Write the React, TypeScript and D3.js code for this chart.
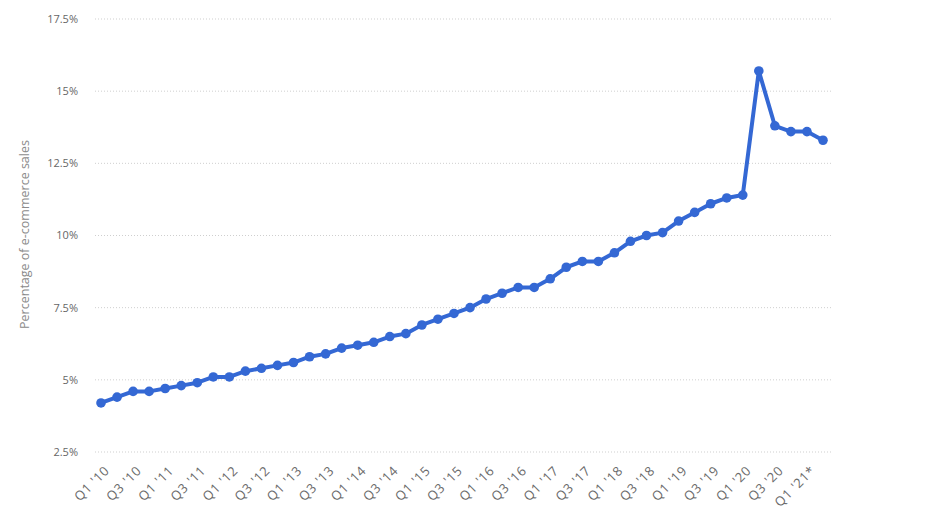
import React from "react";
import * as d3 from "d3";

const quarters: string[] = [
  "Q1 '10","Q2 '10","Q3 '10","Q4 '10",
  "Q1 '11","Q2 '11","Q3 '11","Q4 '11",
  "Q1 '12","Q2 '12","Q3 '12","Q4 '12",
  "Q1 '13","Q2 '13","Q3 '13","Q4 '13",
  "Q1 '14","Q2 '14","Q3 '14","Q4 '14",
  "Q1 '15","Q2 '15","Q3 '15","Q4 '15",
  "Q1 '16","Q2 '16","Q3 '16","Q4 '16",
  "Q1 '17","Q2 '17","Q3 '17","Q4 '17",
  "Q1 '18","Q2 '18","Q3 '18","Q4 '18",
  "Q1 '19","Q2 '19","Q3 '19","Q4 '19",
  "Q1 '20","Q2 '20","Q3 '20","Q4 '20",
  "Q1 '21*","Q2 '21*",
];

const shares: number[] = [
  4.2, 4.4, 4.6, 4.6,
  4.7, 4.8, 4.9, 5.1,
  5.1, 5.3, 5.4, 5.5,
  5.6, 5.8, 5.9, 6.1,
  6.2, 6.3, 6.5, 6.6,
  6.9, 7.1, 7.3, 7.5,
  7.8, 8.0, 8.2, 8.2,
  8.5, 8.9, 9.1, 9.1,
  9.4, 9.8, 10.0, 10.1,
  10.5, 10.8, 11.1, 11.3,
  11.4, 15.7, 13.8, 13.6,
  13.6, 13.3,
];

const yTicks: number[] = [2.5, 5, 7.5, 10, 12.5, 15, 17.5];
const yTickLabels: string[] = ["2.5%", "5%", "7.5%", "10%", "12.5%", "15%", "17.5%"];
const yTitle = "Percentage of e-commerce sales";

const W = 936;
const H = 526;
const FONT = "'Open Sans', 'Noto Sans', sans-serif";
const LINE = "#3468d4";

export default function App() {
  const x = d3.scalePoint<string>().domain(quarters).range([101, 823]);
  const y = d3.scaleLinear().domain([2.5, 17.5]).range([452, 19]);
  const data = quarters.map((q, i) => ({ q, v: shares[i] }));
  const line = d3
    .line<{ q: string; v: number }>()
    .x((d) => x(d.q) as number)
    .y((d) => y(d.v));

  return (
    <svg
      width={W}
      height={H}
      style={{ position: "absolute", left: 0, top: 0, background: "#fff" }}
      fontFamily={FONT}
    >
      {yTicks.map((t, i) => (
        <g key={t}>
          <line
            x1={95}
            x2={831}
            y1={y(t)}
            y2={y(t)}
            stroke="#cfcfcf"
            strokeWidth={1}
            strokeDasharray="1,2"
          />
          <text
            x={78}
            y={y(t)}
            dy="0.35em"
            textAnchor="end"
            fontSize={11}
            fill="#666"
          >
            {yTickLabels[i]}
          </text>
        </g>
      ))}
      <text
        transform={`translate(29,${(y(5) + y(15)) / 2 - 1}) rotate(-90)`}
        textAnchor="middle"
        fontSize={12.5}
        fill="#8a8a8a"
      >
        {yTitle}
      </text>
      {quarters.map((q, i) =>
        i % 2 === 0 ? (
          <text
            key={q}
            transform={`translate(${(x(q) as number) + 2},${464}) rotate(-45)`}
            textAnchor="end"
            dy="0.8em"
            fontSize={13}
            letterSpacing={0.8}
            fill="#6a6a6a"
          >
            {q}
          </text>
        ) : null
      )}
      <path
        d={line(data) || ""}
        fill="none"
        stroke={LINE}
        strokeWidth={4}
        strokeLinejoin="round"
      />
      {data.map((d) => (
        <circle key={d.q} cx={x(d.q) as number} cy={y(d.v)} r={4.8} fill={LINE} />
      ))}
    </svg>
  );
}
